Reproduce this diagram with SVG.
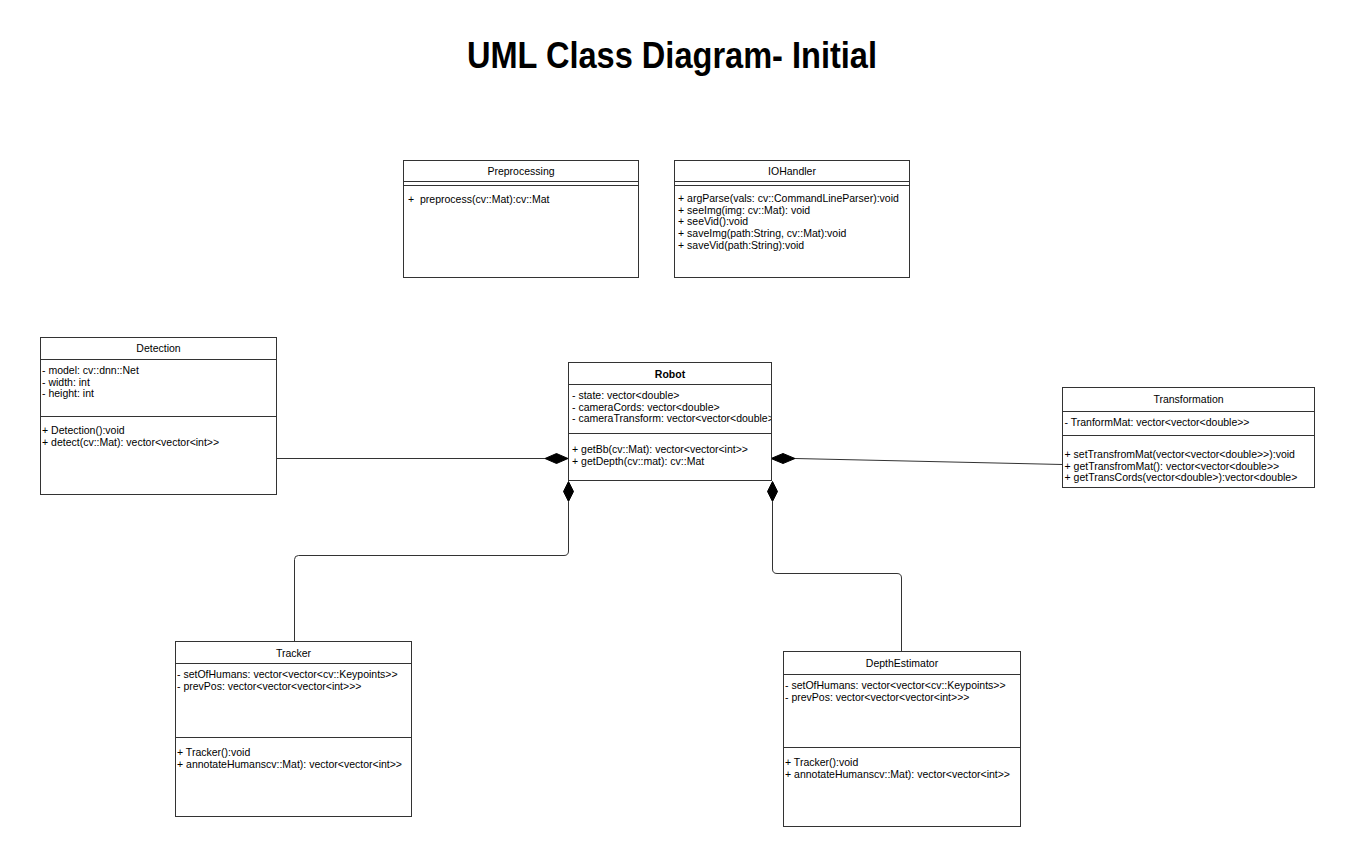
<svg xmlns="http://www.w3.org/2000/svg" width="1345" height="853" viewBox="0 0 1345 853">
<style>
.box{fill:#fff;stroke:#333;stroke-width:1}
.sep{stroke:#333;stroke-width:1}
.t{font-family:"Liberation Sans",Arial,sans-serif;font-size:10.5px;fill:#000}
.c{text-anchor:middle}
.b{font-weight:bold}
.con{fill:none;stroke:#333;stroke-width:1}
.dia{fill:#000;stroke:#000;stroke-width:1}
</style>
<defs>
<clipPath id="robotClip"><rect x="568" y="384" width="203" height="49"/></clipPath>
</defs>
<rect width="1345" height="853" fill="#fff"/>
<text x="467" y="68" font-family="'Liberation Sans',Arial,sans-serif" font-weight="bold" font-size="36" textLength="410" lengthAdjust="spacingAndGlyphs" fill="#000">UML Class Diagram- Initial</text>

<g id="connectors">
<path class="con" d="M277,458.5 H545"/>
<path class="con" d="M795,458.5 L1062.5,464.5"/>
<path class="con" d="M568.5,502 V551 Q568.5,555.5 564,555.5 H298.5 Q294.5,555.5 294.5,559.5 V642"/>
<path class="con" d="M772.5,502 V569 Q772.5,573.5 777,573.5 H897 Q901.5,573.5 901.5,578 V652"/>
<polygon class="dia" points="545,458.5 556.5,453.5 568,458.5 556.5,463.5"/>
<polygon class="dia" points="771,458.5 783,453.5 795,458.5 783,463.5"/>
<polygon class="dia" points="568.5,481.5 573.5,491.5 568.5,501.5 563.5,491.5"/>
<polygon class="dia" points="772.5,481.5 777.5,491.5 772.5,501.5 767.5,491.5"/>
</g>

<g id="Preprocessing">
<rect class="box" x="403.5" y="160.5" width="235" height="117"/>
<line class="sep" x1="403.5" y1="181.5" x2="638.5" y2="181.5"/>
<line class="sep" x1="403.5" y1="185.5" x2="638.5" y2="185.5"/>
<text class="t c" x="521" y="175">Preprocessing</text>
<text class="t" x="408" y="203" xml:space="preserve">+  preprocess(cv::Mat):cv::Mat</text>
</g>

<g id="IOHandler">
<rect class="box" x="674.5" y="160.5" width="235" height="117"/>
<line class="sep" x1="674.5" y1="181.5" x2="909.5" y2="181.5"/>
<line class="sep" x1="674.5" y1="185.5" x2="909.5" y2="185.5"/>
<text class="t c" x="792" y="175">IOHandler</text>
<text class="t" x="678" y="202">+ argParse(vals: cv::CommandLineParser):void</text>
<text class="t" x="678" y="213.7">+ seeImg(img: cv::Mat): void</text>
<text class="t" x="678" y="225.4">+ seeVid():void</text>
<text class="t" x="678" y="237.1">+ saveImg(path:String, cv::Mat):void</text>
<text class="t" x="678" y="248.8">+ saveVid(path:String):void</text>
</g>

<g id="Detection">
<rect class="box" x="40.5" y="337.5" width="236" height="157"/>
<line class="sep" x1="40.5" y1="359.5" x2="276.5" y2="359.5"/>
<line class="sep" x1="40.5" y1="416.5" x2="276.5" y2="416.5"/>
<text class="t c" x="158.5" y="352">Detection</text>
<text class="t" x="42" y="374">- model: cv::dnn::Net</text>
<text class="t" x="42" y="385.7">- width: int</text>
<text class="t" x="42" y="397.4">- height: int</text>
<text class="t" x="42" y="434">+ Detection():void</text>
<text class="t" x="42" y="445.7">+ detect(cv::Mat): vector&lt;vector&lt;int&gt;&gt;</text>
</g>

<g id="Robot">
<rect class="box" x="568.5" y="362.5" width="203" height="118"/>
<line class="sep" x1="568.5" y1="384.5" x2="771.5" y2="384.5"/>
<line class="sep" x1="568.5" y1="433.5" x2="771.5" y2="433.5"/>
<text class="t c b" x="670" y="378">Robot</text>
<g clip-path="url(#robotClip)">
<text class="t" x="572" y="399">- state: vector&lt;double&gt;</text>
<text class="t" x="572" y="410.7">- cameraCords: vector&lt;double&gt;</text>
<text class="t" x="572" y="422.4">- cameraTransform: vector&lt;vector&lt;double&gt;&gt;</text>
</g>
<text class="t" x="572" y="453">+ getBb(cv::Mat): vector&lt;vector&lt;int&gt;&gt;</text>
<text class="t" x="572" y="464.7">+ getDepth(cv::mat): cv::Mat</text>
</g>

<g id="Transformation">
<rect class="box" x="1062.5" y="387.5" width="252" height="100"/>
<line class="sep" x1="1062.5" y1="411.5" x2="1314.5" y2="411.5"/>
<line class="sep" x1="1062.5" y1="435.5" x2="1314.5" y2="435.5"/>
<text class="t c" x="1188.5" y="403">Transformation</text>
<text class="t" x="1064.5" y="425.5">- TranformMat: vector&lt;vector&lt;double&gt;&gt;</text>
<text class="t" x="1064.5" y="458">+ setTransfromMat(vector&lt;vector&lt;double&gt;&gt;):void</text>
<text class="t" x="1064.5" y="469.5">+ getTransfromMat(): vector&lt;vector&lt;double&gt;&gt;</text>
<text class="t" x="1064.5" y="481">+ getTransCords(vector&lt;double&gt;):vector&lt;double&gt;</text>
</g>

<g id="Tracker">
<rect class="box" x="175.5" y="641.5" width="236" height="175"/>
<line class="sep" x1="175.5" y1="663.5" x2="411.5" y2="663.5"/>
<line class="sep" x1="175.5" y1="737.5" x2="411.5" y2="737.5"/>
<text class="t c" x="293.5" y="657">Tracker</text>
<text class="t" x="177" y="678">- setOfHumans: vector&lt;vector&lt;cv::Keypoints&gt;&gt;</text>
<text class="t" x="177" y="689.5">- prevPos: vector&lt;vector&lt;vector&lt;int&gt;&gt;&gt;</text>
<text class="t" x="177" y="756">+ Tracker():void</text>
<text class="t" x="177" y="767.5">+ annotateHumanscv::Mat): vector&lt;vector&lt;int&gt;&gt;</text>
</g>

<g id="DepthEstimator">
<rect class="box" x="783.5" y="651.5" width="237" height="175"/>
<line class="sep" x1="783.5" y1="674.5" x2="1020.5" y2="674.5"/>
<line class="sep" x1="783.5" y1="747.5" x2="1020.5" y2="747.5"/>
<text class="t c" x="902" y="667">DepthEstimator</text>
<text class="t" x="785" y="689">- setOfHumans: vector&lt;vector&lt;cv::Keypoints&gt;&gt;</text>
<text class="t" x="785" y="700.5">- prevPos: vector&lt;vector&lt;vector&lt;int&gt;&gt;&gt;</text>
<text class="t" x="785" y="766">+ Tracker():void</text>
<text class="t" x="785" y="777.5">+ annotateHumanscv::Mat): vector&lt;vector&lt;int&gt;&gt;</text>
</g>
</svg>
